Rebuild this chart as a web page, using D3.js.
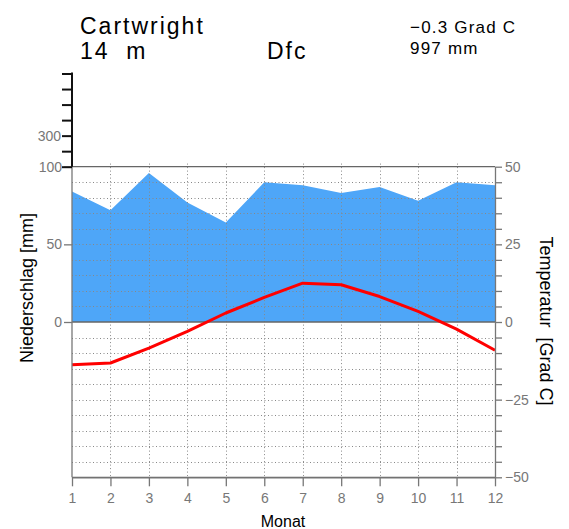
<!DOCTYPE html>
<html>
<head>
<meta charset="utf-8">
<script src="https://cdn.jsdelivr.net/npm/d3@7"></script>
<style>
  body { margin: 0; background: #fff; }
  svg { display: block; font-family: "Liberation Sans", Arial, sans-serif; }
</style>
</head>
<body>
<svg id="graph" width="569" height="529"></svg>
<script>
/*
 * Walter-Lieth climate diagram for Cartwright
 */

// Station info
var station = "Cartwright",
    elevation = "14  m",
    climate = "Dfc",
    meanTemp = "\u22120.3 Grad C",
    totalPrec = "997 mm";

// Monthly values
var months = [1, 2, 3, 4, 5, 6, 7, 8, 9, 10, 11, 12];
var precip = [84, 72, 96, 77, 64, 90, 88, 83, 87, 78, 90, 88];
var temp = [-13.8, -13.2, -8.4, -3.0, 2.9, 7.9, 12.5, 12.0, 8.2, 3.4, -2.3, -9.1];

// Tick values
var tempTicks = [-50, -45, -40, -35, -30, -25, -20, -15, -10, -5, 0, 5, 10, 15, 20, 25, 30, 35, 40, 45, 50];
var tempLabels = [-50, -25, 0, 25, 50];
var precLowTicks = [0, 50, 100];
var precHighTicks = [100, 200, 300, 400, 500, 600, 700];
var precHighLabels = [300];

// Get the SVG, and its dimensions
var svg = d3.select("#graph"),
    margin = {left: 72, right: 495, top: 166.7, bottom: 477.3};

var grey = "#777";

// Scales: 1 degC = 2 mm up to 100 mm, then 1 degC = 20 mm
var xScale = d3.scaleLinear().domain([1, 12]).range([margin.left, margin.right]);
var yTemp = d3.scaleLinear().domain([-50, 50]).range([margin.bottom, margin.top]);
var yPrec = d3.scaleLinear().domain([0, 100, 700]).range([yTemp(0), yTemp(50), yTemp(80)]);

// Precipitation area
svg.append("path").datum(months)
    .attr("fill", "#4ea6f8")
    .attr("d", d3.area()
        .x(m => xScale(m))
        .y0(yPrec(0))
        .y1((m, i) => yPrec(precip[i])));

// Dotted grid
var grid = svg.append("g")
    .attr("stroke", "#888")
    .attr("stroke-width", 1)
    .attr("stroke-dasharray", "1,2.5");
grid.selectAll(".h").data(tempTicks.filter(t => t > -50 && t < 50 && t != 0)).enter()
    .append("line")
    .attr("x1", margin.left).attr("x2", margin.right)
    .attr("y1", t => Math.round(yTemp(t)) + 0.5).attr("y2", t => Math.round(yTemp(t)) + 0.5);
grid.selectAll(".v").data(months.slice(1, 11)).enter()
    .append("line")
    .attr("x1", m => Math.round(xScale(m)) + 0.5).attr("x2", m => Math.round(xScale(m)) + 0.5)
    .attr("y1", yTemp(51)).attr("y2", margin.bottom);

// Solid lines at 100 mm, 0 and the bottom
svg.append("g").attr("stroke", "#666").attr("stroke-width", 1.3)
    .selectAll("line").data([50, 0, -50]).enter()
    .append("line")
    .attr("x1", margin.left).attr("x2", margin.right)
    .attr("y1", t => yTemp(t)).attr("y2", t => yTemp(t));

// Temperature line
svg.append("path").datum(months)
    .attr("fill", "none")
    .attr("stroke", "#ff0000")
    .attr("stroke-width", 3)
    .attr("stroke-linejoin", "round")
    .attr("d", d3.line()
        .x(m => xScale(m))
        .y((m, i) => yTemp(temp[i])));

// Style an axis group
function styleAxis(g, color, width) {
    g.select(".domain").attr("stroke", color).attr("stroke-width", width);
    g.selectAll(".tick line").attr("stroke", color).attr("stroke-width", width);
    g.selectAll(".tick text").attr("fill", grey)
        .style("font-size", "14px")
        .style("font-family", "'Liberation Sans', Arial, sans-serif");
}

// Bottom axis (months)
var xAxis = d3.axisBottom(xScale).tickValues(months).tickSize(9).tickSizeOuter(0).tickPadding(7);
svg.append("g").attr("transform", "translate(0," + margin.bottom + ")").call(xAxis)
    .call(g => styleAxis(g, grey, 1.3));

// Right axis (temperature)
var yAxisR = d3.axisRight(yTemp).tickValues(tempTicks).tickSize(7).tickSizeOuter(0).tickPadding(3)
    .tickFormat(t => tempLabels.indexOf(t) >= 0 ? (t < 0 ? "\u2212" + (-t) : t) : "");
svg.append("g").attr("transform", "translate(" + margin.right + ",0)").call(yAxisR)
    .call(g => styleAxis(g, grey, 1.3));

// Left axis, lower part (precipitation up to 100 mm)
var yAxisL = d3.axisLeft(yPrec).tickValues(precLowTicks).tickSize(8).tickSizeOuter(0).tickPadding(2);
var lower = svg.append("g").attr("transform", "translate(" + margin.left + ",0)").call(yAxisL)
    .call(g => styleAxis(g, grey, 1.3));
lower.select(".domain").attr("d", "M0," + margin.bottom + "V" + margin.top);

// Left axis, upper part (compressed scale above 100 mm)
var yAxisU = d3.axisLeft(yPrec).tickValues(precHighTicks).tickSize(10).tickSizeOuter(0).tickPadding(1)
    .tickFormat(p => precHighLabels.indexOf(p) >= 0 ? p : "");
var upper = svg.append("g").attr("transform", "translate(" + margin.left + ",0)").call(yAxisU)
    .call(g => styleAxis(g, "#111", 2));
upper.select(".domain").attr("d", "M0," + yPrec(100) + "V" + (yPrec(700) - 1));

// Axis titles
svg.append("text")
    .attr("transform", "translate(" + 540 + "," + 321 + ") rotate(90)")
    .attr("text-anchor", "middle")
    .style("font-size", "18px")
    .attr("xml:space", "preserve")
    .text("Temperatur  [Grad C]");
svg.append("text")
    .attr("transform", "translate(" + 33 + "," + 288 + ") rotate(-90)")
    .attr("text-anchor", "middle")
    .style("font-size", "18px")
    .text("Niederschlag [mm]");
svg.append("text")
    .attr("x", 283).attr("y", 527)
    .attr("text-anchor", "middle")
    .style("font-size", "16px")
    .text("Monat");

// Header
svg.append("text").attr("x", 80).attr("y", 34)
    .style("font-size", "23px").style("letter-spacing", "2px").text(station);
svg.append("text").attr("x", 80).attr("y", 59)
    .style("font-size", "23px").style("letter-spacing", "2px").attr("xml:space", "preserve").text(elevation);
svg.append("text").attr("x", 267).attr("y", 59)
    .style("font-size", "23px").style("letter-spacing", "2px").text(climate);
svg.append("text").attr("x", 410).attr("y", 33)
    .style("font-size", "17px").style("letter-spacing", "1.2px").text(meanTemp);
svg.append("text").attr("x", 410).attr("y", 54)
    .style("font-size", "17px").style("letter-spacing", "1.2px").text(totalPrec);
</script>
</body>
</html>
